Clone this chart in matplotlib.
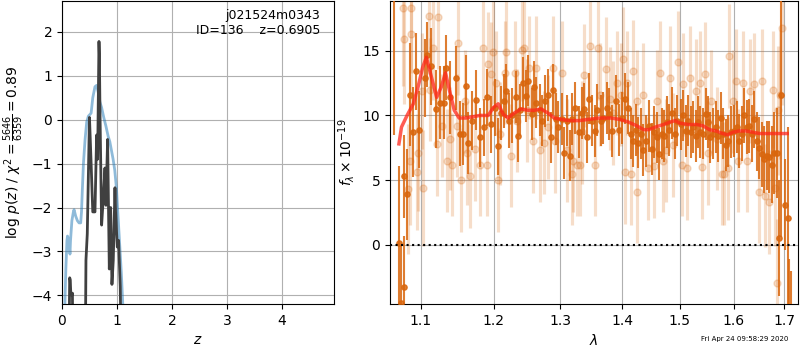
import numpy as np
import matplotlib
matplotlib.use("Agg")
import matplotlib.pyplot as plt
from matplotlib.ticker import NullLocator, FixedLocator, FixedFormatter

# p(z) panel
z_chi2 = [0.05, 0.07, 0.09, 0.10, 0.12, 0.135, 0.145, 0.155, 0.18, 0.21, 0.22, 0.25, 0.28, 0.31,
          0.34, 0.355, 0.37, 0.39, 0.42, 0.45, 0.48, 0.51, 0.53, 0.56, 0.60, 0.63, 0.66, 0.69,
          0.72, 0.76, 0.80, 0.84, 0.87, 0.90, 0.93, 0.96, 0.99, 1.02, 1.05, 1.08, 1.11]
chi2_curve = [-4.3, -3.4, -2.75, -2.65, -2.72, -2.88, -3.06, -2.75, -2.3, -2.08, -2.05, -2.2, -2.3, -2.35,
              -2.35, -2.1, -1.6, -1.0, -0.45, -0.05, 0.08, 0.12, 0.15, 0.5, 0.75, 0.78, 0.62, 0.4,
              0.28, 0.05, -0.15, -0.38, -0.5, -0.7, -0.9, -1.15, -1.55, -2.2, -2.85, -3.5, -4.3]

z_pdf = [0.12, 0.14, 0.15, 0.16, 0.18, 0.19, 0.2, 0.42, 0.436, 0.46, 0.49, 0.50, 0.53, 0.56, 0.60,
         0.63, 0.648, 0.673, 0.68, 0.691, 0.721, 0.76, 0.782, 0.80, 0.83, 0.861, 0.885, 0.909,
         0.933, 0.964, 0.975, 1.006, 1.03, 1.06, 1.085]
log_pdf = [-6.0, -3.6, -3.65, -3.95, -4.0, -3.95, -6.0, -6.0, -3.2, -2.6, -0.6, 0.05, -1.0, -2.1, -2.1,
           -0.35, -0.9, 1.78, 1.5, 0.2, -2.4, -1.6, -1.1, -1.95, -0.45, -3.4, -2.0, -3.75,
           -3.2, -1.55, -2.1, -2.9, -2.75, -3.8, -6.0]

# spectrum panel: dark series
lam_a = [1.0650, 1.0714, 1.0747, 1.0777, 1.0785, 1.0819, 1.0862, 1.0892, 1.0939, 1.0970,
         1.1058, 1.1085, 1.1129, 1.1196, 1.1249, 1.1307, 1.1338, 1.1384, 1.1475, 1.1525,
         1.1571, 1.1607, 1.1639, 1.1698, 1.1753, 1.1805, 1.1862, 1.1910, 1.1957, 1.2019,
         1.2067, 1.2105, 1.2148, 1.2186, 1.2224, 1.2272, 1.2326, 1.2350, 1.2385, 1.2434,
         1.2474, 1.2499, 1.2558, 1.2598, 1.2632, 1.2682, 1.2721, 1.2766, 1.2813, 1.2849,
         1.2890, 1.2932, 1.2968, 1.3020, 1.3057, 1.3098, 1.3150, 1.3176, 1.3228, 1.3291,
         1.3335, 1.3373, 1.3416, 1.3459, 1.3502, 1.3551, 1.3589, 1.3643, 1.3686, 1.3740,
         1.3783, 1.3837, 1.3895, 1.3951, 1.4002, 1.4047, 1.4103, 1.4143, 1.4188, 1.4233,
         1.4273, 1.4312, 1.4357, 1.4403, 1.4449, 1.4501, 1.4542, 1.4588, 1.4635, 1.4675,
         1.4716, 1.4762, 1.4809, 1.4855, 1.4908, 1.4954, 1.5013, 1.5061, 1.5109, 1.5151,
         1.5193, 1.5241, 1.5289, 1.5331, 1.5373, 1.5421, 1.5469, 1.5511, 1.5553, 1.5612,
         1.5663, 1.5707, 1.5752, 1.5803, 1.5853, 1.5898, 1.5942, 1.6006, 1.6057, 1.6107,
         1.6152, 1.6197, 1.6248, 1.6301, 1.6348, 1.6394, 1.6447, 1.6501, 1.6547, 1.6594,
         1.6647, 1.6700, 1.6747, 1.6793, 1.6846, 1.6886, 1.6930, 1.7018, 1.7065, 1.7099, 1.7139]
flux_a = [19.5, 0.1, -4.5, -3.3, 5.3, 3.9, 11.6, 8.7, 13.4, 8.9,
          12.9, 14.7, 13.8, 10.5, 11.0, 11.0, 13.7, 11.4, 12.9, 8.6,
          8.6, 12.3, 7.9, 9.6, 11.2, 8.3, 9.1, 11.4, 9.3, 10.6,
          7.6, 10.2, 11.1, 11.9, 9.6, 10.0, 11.4, 8.4, 10.4, 12.5,
          11.5, 12.7, 10.1, 12.2, 11.0, 10.4, 9.6, 11.1, 11.6, 8.3,
          12.0, 9.7, 9.1, 9.7, 7.1, 9.6, 6.9, 9.7, 10.6, 8.7,
          10.2, 10.5, 8.3, 11.3, 9.6, 8.8, 10.4, 9.6, 9.8, 10.6,
          10.1, 8.8, 11.1, 8.9, 9.8, 11.3, 10.6, 8.6, 8.0, 8.9,
          7.9, 8.6, 7.3, 8.0, 9.2, 7.4, 8.7, 8.3, 7.0, 8.6,
          8.4, 9.5, 8.9, 10.2, 8.6, 9.6, 9.3, 10.0, 8.8, 9.6,
          8.7, 9.1, 8.4, 9.5, 8.7, 8.6, 10.1, 9.5, 8.3, 8.6,
          9.1, 8.4, 9.8, 8.6, 7.7, 8.0, 8.7, 8.8, 9.1, 8.0,
          8.6, 10.0, 9.1, 9.2, 8.6, 9.7, 8.0, 7.5, 7.0, 6.6,
          6.9, 6.8, 6.2, 7.1, 7.1, 0.5, 11.6, 3.1, 2.1, -6.0, -6.5]
err_a = [11.0, 6.0, 4.5, 4.0, 3.2, 3.5, 4.0, 3.5, 3.0, 3.0,
         3.0, 2.5, 3.0, 3.0, 2.8, 2.8, 2.5, 2.8, 2.5, 2.5,
         2.4, 2.4, 2.4, 2.3, 2.3, 2.3, 2.2, 2.2, 2.2, 2.2,
         2.2, 2.1, 2.1, 2.1, 2.1, 2.1, 2.0, 2.0, 2.0, 2.0,
         2.0, 2.0, 2.0, 2.0, 2.0, 2.0, 2.0, 2.0, 2.0, 2.0,
         2.0, 2.0, 2.0, 2.0, 2.0, 2.0, 2.0, 2.0, 2.0, 2.0,
         2.0, 2.0, 2.0, 2.0, 2.0, 2.0, 2.0, 2.0, 2.0, 2.0,
         2.0, 2.0, 2.0, 2.0, 2.0, 2.0, 2.0, 2.0, 2.0, 2.0,
         2.0, 2.0, 2.0, 2.0, 2.0, 2.0, 2.0, 2.0, 2.0, 2.0,
         2.0, 2.0, 2.0, 2.0, 2.0, 2.0, 2.0, 2.0, 2.0, 2.0,
         2.0, 2.0, 2.0, 2.0, 2.0, 2.0, 2.0, 2.0, 2.0, 2.0,
         2.0, 2.0, 2.0, 2.0, 2.0, 2.0, 2.0, 2.0, 2.0, 2.1,
         2.1, 2.1, 2.1, 2.1, 2.2, 2.2, 2.3, 2.4, 2.5, 2.6,
         2.7, 2.8, 3.0, 3.2, 3.5, 4.5, 11.0, 3.5, 7.0, 4.9, 4.5]

# spectrum panel: light series
lam_b = [1.0760, 1.0777, 1.0832, 1.0853, 1.0866, 1.0875, 1.0944, 1.0957, 1.1009, 1.1022,
         1.1111, 1.1120, 1.1164, 1.1218, 1.1231, 1.1275, 1.1343, 1.1389, 1.1421, 1.1489,
         1.1503, 1.1539, 1.1594, 1.1626, 1.1662, 1.1732, 1.1805, 1.1852, 1.1900, 1.1924,
         1.1957, 1.1995, 1.2033, 1.2067, 1.2100, 1.2162, 1.2186, 1.2252, 1.2311, 1.2336,
         1.2410, 1.2450, 1.2484, 1.2524, 1.2583, 1.2632, 1.2682, 1.2742, 1.2813, 1.2880,
         1.2916, 1.3020, 1.3098, 1.3176, 1.3202, 1.3254, 1.3308, 1.3346, 1.3373, 1.3470,
         1.3551, 1.3605, 1.3632, 1.3729, 1.3794, 1.3850, 1.3917, 1.3974, 1.4019, 1.4047,
         1.4087, 1.4143, 1.4188, 1.4245, 1.4250, 1.4346, 1.4443, 1.4542, 1.4588, 1.4646,
         1.4693, 1.4751, 1.4821, 1.4879, 1.4966, 1.5031, 1.5061, 1.5133, 1.5181, 1.5301,
         1.5361, 1.5409, 1.5451, 1.5511, 1.5571, 1.5676, 1.5771, 1.5816, 1.5898, 1.5917,
         1.5993, 1.6044, 1.6089, 1.6172, 1.6248, 1.6314, 1.6394, 1.6494, 1.6547, 1.6614,
         1.6700, 1.6780, 1.6813, 1.6846, 1.6880, 1.6910, 1.6944]
flux_b = [18.3, 15.9, 4.3, 6.5, 16.3, 18.3, 5.6, 7.1, 11.9, 4.4,
          17.7, 12.0, 15.2, 7.8, 17.6, 9.2, 6.5, 8.2, 6.2, 9.2,
          15.6, 5.0, 11.1, 7.1, 5.3, 7.4, 6.2, 15.2, 6.2, 14.0,
          13.2, 14.9, 12.5, 5.0, 8.6, 13.3, 14.9, 6.9, 13.3, 9.6,
          15.1, 15.2, 10.4, 13.7, 8.0, 13.7, 7.3, 7.9, 9.1, 13.7,
          8.0, 13.3, 7.3, 5.5, 6.5, 6.2, 6.2, 8.7, 13.1, 15.4,
          6.2, 15.2, 11.6, 13.6, 11.3, 10.2, 12.5, 11.6, 14.4, 5.6,
          12.5, 5.5, 13.4, 4.1, 11.1, 11.6, 5.9, 6.1, 11.1, 13.3,
          6.5, 7.3, 12.9, 7.7, 14.1, 6.2, 12.4, 5.9, 12.9, 11.9,
          12.5, 6.0, 13.2, 7.1, 11.1, 8.2, 5.5, 5.5, 5.9, 14.6,
          11.1, 12.7, 6.5, 12.5, 6.5, 11.9, 12.4, 4.1, 12.7, 3.8,
          3.3, 12.0, 4.4, -3.0, 10.4, 11.6, 16.8]
err_b = [6.0, 5.0, 5.0, 5.0, 5.0, 5.0, 4.5, 4.5, 4.5, 4.5,
         4.5, 4.0, 4.0, 4.0, 4.0, 4.0, 4.0, 4.0, 4.0, 4.0,
         4.0, 4.0, 4.0, 4.0, 4.0, 4.0, 4.0, 4.0, 4.0, 4.0,
         4.0, 4.0, 4.0, 4.0, 4.0, 4.0, 4.0, 4.0, 4.0, 4.0,
         4.0, 4.0, 4.0, 4.0, 4.0, 4.0, 4.0, 4.0, 4.0, 4.0,
         4.0, 4.0, 4.0, 4.0, 4.0, 4.0, 4.0, 4.0, 4.0, 4.0,
         4.0, 4.0, 4.0, 4.0, 4.0, 4.0, 4.0, 4.0, 4.0, 4.0,
         4.0, 4.0, 4.0, 4.0, 4.0, 4.0, 4.0, 4.0, 4.0, 4.0,
         4.0, 4.0, 4.0, 4.0, 4.0, 4.0, 4.0, 4.0, 4.0, 4.0,
         4.0, 4.0, 4.0, 4.0, 4.0, 4.0, 4.0, 4.0, 4.0, 4.0,
         4.0, 4.0, 4.0, 4.0, 4.0, 4.0, 4.0, 4.0, 4.0, 4.0,
         4.0, 4.5, 4.5, 5.0, 5.0, 5.0, 6.0]

# best-fit model
lam_model = [1.0714, 1.0747, 1.0819, 1.0900, 1.0962, 1.1022, 1.1072, 1.1125, 1.1209, 1.1271,
             1.1329, 1.1380, 1.1448, 1.1515, 1.1607, 1.1805, 1.1924, 1.1995, 1.2067, 1.2139,
             1.2210, 1.2306, 1.2404, 1.2504, 1.2603, 1.2703, 1.2803, 1.2905, 1.3009, 1.3140,
             1.3296, 1.3454, 1.3616, 1.3810, 1.3951, 1.4098, 1.4245, 1.4363, 1.4449, 1.4566,
             1.4711, 1.4833, 1.4919, 1.5001, 1.5151, 1.5301, 1.5421, 1.5541, 1.5663, 1.5789,
             1.5885, 1.5980, 1.6107, 1.6238, 1.6369, 1.6501, 1.6700, 1.6910, 1.7059]
flux_model = [7.8, 9.1, 10.0, 10.9, 12.2, 13.7, 14.5, 13.3, 11.4, 12.2,
              13.3, 12.0, 10.4, 9.8, 9.8, 10.0, 10.0, 10.6, 10.9, 10.1,
              9.8, 10.2, 10.5, 10.4, 10.4, 10.5, 10.2, 9.8, 9.7, 9.6,
              9.6, 9.7, 9.8, 9.8, 9.7, 9.5, 9.2, 8.9, 8.9, 9.1,
              9.3, 9.5, 9.6, 9.4, 9.3, 9.3, 9.2, 8.9, 8.8, 8.6,
              8.5, 8.7, 8.8, 8.8, 8.7, 8.6, 8.6, 8.6, 8.6]

x_ticks = [1.1, 1.2, 1.3, 1.4, 1.5, 1.6, 1.7]
orange = (0.85, 0.40, 0.05)

fig = plt.figure(figsize=(8, 3.5), dpi=100)
ax1 = fig.add_axes([0.0775, 0.131, 0.34, 0.866])
ax2 = fig.add_axes([0.4875, 0.131, 0.51, 0.866])

# left: redshift PDF
ax1.plot(z_chi2, chi2_curve, color='tab:blue', alpha=0.5, lw=2)
ax1.plot(z_pdf, log_pdf, color='0.25', lw=2)
ax1.set_xlim(0, 4.95)
ax1.set_ylim(-4.2, 2.7)
ax1.set_xticks([0, 1, 2, 3, 4])
ax1.set_yticks([-4, -3, -2, -1, 0, 1, 2])
ax1.grid()
ax1.set_xlabel('$z$')
ax1.set_ylabel(r'log $p(z)$ / $\chi^2=\frac{5646}{6359}=0.89$')
ax1.text(0.95, 0.975, 'j021524m0343\nID=136    z=0.6905', transform=ax1.transAxes,
         ha='right', va='top', fontsize=9)

# right: spectrum
ax2.errorbar(lam_b, flux_b, yerr=err_b, color=orange, alpha=0.22, marker='o',
             ms=5, ls='none', elinewidth=2.3, zorder=2)
ax2.errorbar(lam_a, flux_a, yerr=err_a, color=orange, alpha=0.85, marker='o',
             ms=3.8, ls='none', elinewidth=1.5, zorder=3)
ax2.plot(lam_model, flux_model, color=(1.0, 0.15, 0.1), alpha=0.75, lw=2.5, zorder=4)
ax2.axhline(0, color='k', ls=':', lw=1.5, zorder=5)
ax2.set_xscale('log')
ax2.set_xlim(1.06, 1.728)
ax2.set_ylim(-4.6, 18.85)
ax2.xaxis.set_major_locator(FixedLocator(x_ticks))
ax2.xaxis.set_major_formatter(FixedFormatter(['{0:.1f}'.format(t) for t in x_ticks]))
ax2.xaxis.set_minor_locator(NullLocator())
ax2.set_yticks([0, 5, 10, 15])
ax2.grid()
ax2.set_xlabel(r'$\lambda$')
ax2.set_ylabel(r'$f_\lambda \times 10^{-19}$')

fig.text(0.985, 0.022, 'Fri Apr 24 09:58:29 2020', ha='right', va='bottom', fontsize=5)

fig.savefig('out.png', dpi=100)
